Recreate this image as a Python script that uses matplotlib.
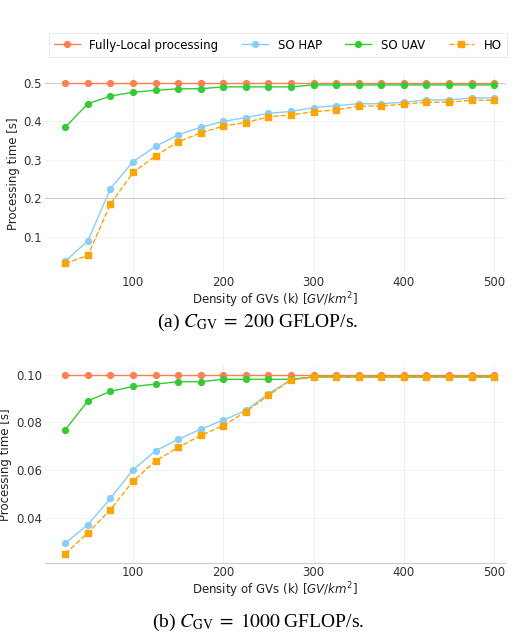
import matplotlib
matplotlib.use("Agg")
import matplotlib.pyplot as plt

# densities of GVs
density = [25, 50, 75, 100, 125, 150, 175, 200, 225, 250,
           275, 300, 325, 350, 375, 400, 425, 450, 475, 500]

# (a) C_GV = 200 GFLOP/s
local_a = [0.5] * 20
hap_a = [0.036, 0.089, 0.225, 0.295, 0.335, 0.365, 0.385, 0.400, 0.410, 0.421,
         0.426, 0.436, 0.441, 0.446, 0.446, 0.450, 0.456, 0.456, 0.461, 0.461]
uav_a = [0.385, 0.446, 0.466, 0.476, 0.481, 0.485, 0.485, 0.490, 0.490, 0.490,
         0.490, 0.495, 0.495, 0.495, 0.495, 0.495, 0.495, 0.495, 0.495, 0.495]
ho_a = [0.030, 0.051, 0.185, 0.267, 0.310, 0.347, 0.370, 0.388, 0.397, 0.412,
        0.417, 0.425, 0.430, 0.440, 0.440, 0.445, 0.450, 0.450, 0.455, 0.455]

# (b) C_GV = 1000 GFLOP/s
local_b = [0.1] * 20
hap_b = [0.0297, 0.0374, 0.0484, 0.0603, 0.0682, 0.0730, 0.0772, 0.0810, 0.0850, 0.0920,
         0.0978, 0.0990, 0.0990, 0.0990, 0.0990, 0.0990, 0.0990, 0.0990, 0.0990, 0.0990]
uav_b = [0.077, 0.089, 0.093, 0.095, 0.096, 0.097, 0.097, 0.098, 0.098, 0.098,
         0.098, 0.099, 0.099, 0.099, 0.099, 0.099, 0.099, 0.099, 0.099, 0.099]
ho_b = [0.0253, 0.0340, 0.0437, 0.0555, 0.0640, 0.0696, 0.0746, 0.0787, 0.0845, 0.0913,
        0.0978, 0.0990, 0.0990, 0.0990, 0.0990, 0.0990, 0.0990, 0.0990, 0.0990, 0.0990]

labels = ["Fully-Local processing", "SO HAP", "SO UAV", "HO"]
colors = ["#FF7F50", "#87CEFA", "#32CD32", "#FFA500"]

plt.rcParams['font.family'] = ['DejaVu Sans']
plt.rcParams['mathtext.fontset'] = 'dejavusans'

fig = plt.figure(figsize=(5.16, 6.34), dpi=100)
ax1 = fig.add_axes([0.0872, 0.5702, 0.8915, 0.3131])
ax2 = fig.add_axes([0.0872, 0.1115, 0.8915, 0.3118])


def draw(ax, series, yticks, fmt, ylab_x):
    handles = []
    for i, (ys, lab, c) in enumerate(zip(series, labels, colors)):
        if lab == "HO":
            h, = ax.plot(density, ys, color=c, ls='--', lw=1.0, marker='s',
                         ms=5, label=lab, zorder=3 + i)
        else:
            h, = ax.plot(density, ys, color=c, ls='-', lw=1.0, marker='o',
                         ms=4.2, label=lab, zorder=3 + i)
        handles.append(h)
    ax.set_xlim(2.5, 512)
    ax.set_xticks([100, 200, 300, 400, 500])
    ax.set_yticks(yticks)
    ax.set_yticklabels([fmt % v for v in yticks])
    ax.grid(True, axis='x', color='#efefef', lw=0.7)
    ax.grid(True, axis='y', color='#f2f2f2', lw=0.7)
    ax.set_axisbelow(True)
    for s in ['top', 'right', 'left', 'bottom']:
        ax.spines[s].set_visible(False)
    ax.tick_params(length=0, labelsize=8.5, colors='#333333', pad=2.2)
    ax.set_xlabel("Density of GVs (k) [$GV/km^2$]", fontsize=8.5,
                  color='#222222', labelpad=1)
    ax.set_ylabel("Processing time [s]", fontsize=8.5, color='#222222')
    ax.yaxis.set_label_coords(ylab_x, 0.5)
    return handles


h = draw(ax1, [local_a, hap_a, uav_a, ho_a], [0.1, 0.2, 0.3, 0.4, 0.5], "%.1f", -0.054)
ax1.set_ylim(0.0065, 0.5235)
# the 0.2 and 0.5 grid lines show darker in the original
for v, gl in zip([0.1, 0.2, 0.3, 0.4, 0.5], ax1.get_ygridlines()):
    if v in (0.2, 0.5):
        gl.set_color('#c8c8c8')

draw(ax2, [local_b, hap_b, uav_b, ho_b], [0.04, 0.06, 0.08, 0.10], "%.2f", -0.0716)
ax2.set_ylim(0.0213, 0.1037)
ax2.spines['bottom'].set_visible(True)
ax2.spines['bottom'].set_color('#cccccc')
ax2.spines['bottom'].set_linewidth(0.8)

leg = fig.legend(handles=h, labels=labels, ncol=4, loc='center left',
                 bbox_to_anchor=(0.083, 0.929), fontsize=8.5, frameon=True,
                 fancybox=False, edgecolor='#e6e6e6', columnspacing=2.0,
                 handlelength=2.2, handletextpad=0.8, borderpad=0.45)
leg.get_frame().set_linewidth(0.8)

cap_font = {'family': 'Liberation Serif', 'size': 14}
fig.text(0.5, 0.492, r"(a) $C_{\mathrm{GV}}\;=\;200$ GFLOP/s.", ha='center',
         va='center', fontdict=cap_font, math_fontfamily='stix')
fig.text(0.5, 0.018, r"(b) $C_{\mathrm{GV}}\;=\;1000$ GFLOP/s.", ha='center',
         va='center', fontdict=cap_font, math_fontfamily='stix')

fig.savefig("out.png", dpi=100)
